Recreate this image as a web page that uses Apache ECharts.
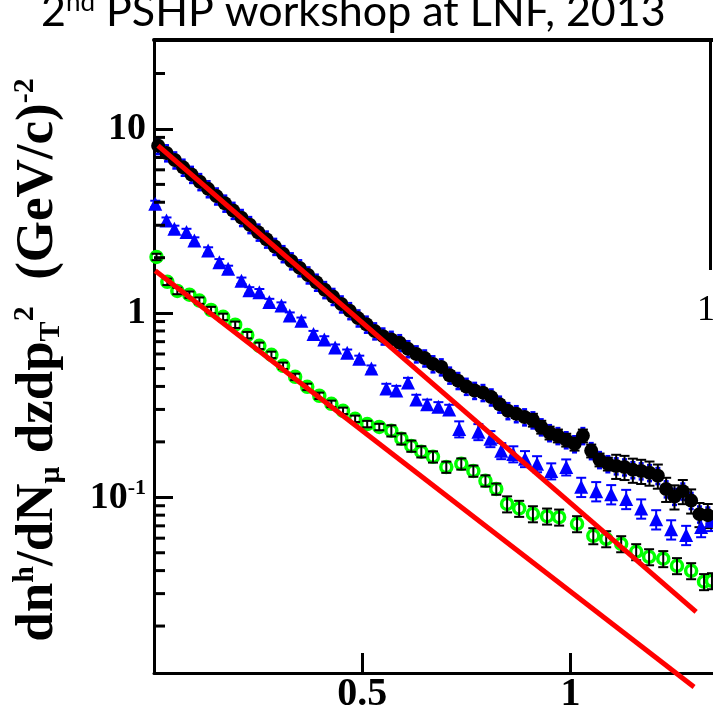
<!DOCTYPE html>
<html><head><meta charset="utf-8">
<script src="https://cdn.jsdelivr.net/npm/echarts@6/dist/echarts.min.js"></script>
<style>html,body{margin:0;padding:0;background:#fff}#c{width:713px;height:715px}</style>
</head><body><div id="c"></div>
<script>
// ---------- data ----------
const xTickValues = [0.5, 1];
const yMajorTickValues = [0.1, 1, 10];
const yMinorTickValues = [0.02,0.03,0.04,0.05,0.06,0.07,0.08,0.09,0.2,0.3,0.4,0.5,0.6,0.7,0.8,0.9,2,3,4,5,6,7,8,9,20];

const blackX = [0.01,0.03,0.05,0.07,0.09,0.11,0.13,0.15,0.17,0.19,0.21,0.23,0.25,0.27,0.29,0.31,0.33,0.35,0.37,0.39,0.41,0.43,0.45,0.47,0.49,0.51,0.53,0.55,
  0.57,0.59,0.61,0.63,0.65,0.67,0.69,0.71,0.73,0.75,0.77,0.79,0.81,0.83,0.85,0.87,0.89,0.91,0.93,0.95,0.97,0.99,1.01,1.03,1.05,1.07,1.09,1.11,1.13,1.15,1.17,1.19,1.21,1.23,1.25,1.27,1.29,1.31,1.33];
const blackY = [8.11,7.41,6.78,6.19,5.66,5.17,4.73,4.32,3.95,3.61,3.30,3.02,2.75,2.52,2.30,2.10,1.92,1.76,1.61,1.47,1.34,1.23,1.12,1.03,0.94,0.87,0.80,0.75,
  0.72,0.69,0.64,0.60,0.57,0.53,0.51,0.46,0.43,0.40,0.38,0.37,0.35,0.32,0.295,0.284,0.273,0.263,0.241,0.224,0.216,0.205,0.195,0.216,0.179,0.160,0.152,0.148,0.146,0.141,0.139,0.136,0.131,0.111,0.101,0.108,0.096,0.081,0.080];
const blackErr = [0.03,0.03,0.03,0.03,0.03,0.03,0.03,0.03,0.03,0.03,0.03,0.03,0.03,0.03,0.03,0.03,0.03,0.03,0.03,0.03,0.03,0.03,0.03,0.03,0.03,0.03,0.03,0.03,
  0.05,0.05,0.05,0.05,0.05,0.05,0.05,0.05,0.05,0.05,0.05,0.05,0.05,0.05,0.05,0.05,0.05,0.08,0.08,0.08,0.08,0.08,0.08,0.08,0.08,0.08,0.08,0.15,0.15,0.15,0.15,0.15,0.15,0.15,0.15,0.15,0.15,0.15,0.15];
// second blue set lying under the black points: only its error-bar ends peek out
const blueUnderErr = [0.10,0.10,0.10,0.10,0.10,0.10,0.10,0.10,0.10,0.10,0.10,0.10,0.10,0.10,0.10,0.10,0.10,0.10,0.10,0.10,0.10,0.10,0.10,0.10,0.10,0.10,0.10,0.10,
  0.10,0.10,0.10,0.10,0.10,0.10,0.10,0.10,0.10,0.10,0.10,0.10,0.10,0.10,0.10,0.10,0.10,0.10,0.10,0.10,0.10,0.10,0.10,0.10,0.10,0.10,0.10,0.10,0.10,0.10,0.10,0.10,0.10,0.10,0.10,0.10,0.10,0.10,0.10];

const blueX = [0.003,0.030,0.049,0.078,0.097,0.130,0.157,0.178,0.210,0.229,0.253,0.277,0.306,0.326,0.354,0.383,0.409,0.435,0.464,0.493,0.522,
  0.558,0.582,0.610,0.630,0.656,0.683,0.709,0.733,0.779,0.808,0.834,0.863,0.891,0.920,0.954,0.990,1.026,1.062,1.098,1.134,1.170,1.206,1.242,1.278,1.314,1.338];
const blueY = [3.92,3.18,2.87,2.76,2.48,2.19,1.89,1.74,1.50,1.33,1.30,1.15,1.10,0.97,0.91,0.77,0.72,0.65,0.61,0.565,0.50,
  0.39,0.38,0.42,0.34,0.32,0.31,0.30,0.235,0.227,0.208,0.179,0.172,0.162,0.152,0.139,0.146,0.114,0.108,0.104,0.098,0.087,0.076,0.067,0.0625,0.069,0.0745];
const blueErr = [0.04,0.04,0.04,0.04,0.04,0.04,0.04,0.04,0.04,0.04,0.04,0.04,0.04,0.04,0.04,0.04,0.04,0.04,0.04,0.04,0.04,
  0.06,0.06,0.06,0.06,0.06,0.06,0.06,0.10,0.10,0.10,0.10,0.10,0.10,0.10,0.10,0.10,0.12,0.12,0.12,0.12,0.12,0.12,0.12,0.12,0.12,0.12];

const greenX = [0.006,0.032,0.056,0.085,0.109,0.137,0.166,0.195,0.224,0.253,0.282,0.310,0.339,0.368,0.397,0.426,0.454,0.483,0.512,0.541,
  0.570,0.594,0.618,0.642,0.670,0.702,0.738,0.767,0.796,0.822,0.848,0.877,0.910,0.944,0.973,1.016,1.055,1.086,1.122,1.158,1.189,1.223,1.256,1.290,1.321,1.340];
const greenY = [2.02,1.48,1.32,1.26,1.17,1.04,0.955,0.865,0.76,0.665,0.594,0.518,0.451,0.398,0.356,0.322,0.295,0.267,0.25,0.241,
  0.23,0.208,0.19,0.177,0.166,0.146,0.152,0.139,0.123,0.111,0.092,0.087,0.0813,0.079,0.078,0.0718,0.0618,0.0595,0.0559,0.0506,0.0475,0.0464,0.0425,0.0399,0.0348,0.0352];
const greenErr = [0.04,0.04,0.04,0.04,0.04,0.04,0.04,0.04,0.04,0.04,0.04,0.04,0.04,0.04,0.04,0.04,0.04,0.04,0.04,0.04,
  0.07,0.07,0.07,0.07,0.07,0.07,0.07,0.07,0.07,0.07,0.10,0.10,0.10,0.10,0.10,0.10,0.10,0.10,0.10,0.10,0.10,0.10,0.10,0.10,0.10,0.10];

const redHighX = [0.0096, 1.302];
const redHighY = [8.13, 0.0239];
const redLowX = [0.003, 1.297];
const redLowY = [1.70, 0.00933];

const titleText = ['2', 'nd', ' PSHP workshop at LNF, 2013'];

// ---------- build ----------
const zip = (xs, ys, es) => xs.map((x, i) => es ? [x, ys[i], es[i]] : [x, ys[i]]);

function errRender(color, capHalf, lw) {
  return function (params, api) {
    const x = api.value(0), v = api.value(1), r = api.value(2);
    const lo = api.coord([x, v * (1 - r)]);
    const hi = api.coord([x, v * (1 + r)]);
    const st = { stroke: color, lineWidth: lw, fill: null };
    return { type: 'group', children: [
      { type: 'line', shape: { x1: lo[0], y1: lo[1], x2: hi[0], y2: hi[1] }, style: st },
      { type: 'line', shape: { x1: lo[0] - capHalf, y1: lo[1], x2: lo[0] + capHalf, y2: lo[1] }, style: st },
      { type: 'line', shape: { x1: hi[0] - capHalf, y1: hi[1], x2: hi[0] + capHalf, y2: hi[1] }, style: st }
    ]};
  };
}

function ringRender(color, r, lw) {
  return function (params, api) {
    const p = api.coord([api.value(0), api.value(1)]);
    return { type: 'circle', shape: { cx: p[0], cy: p[1], r: r }, style: { stroke: color, lineWidth: lw, fill: '#fff' } };
  };
}

const chart = echarts.init(document.getElementById('c'));
const serif = 'Liberation Serif';

chart.setOption({
  animation: false,
  backgroundColor: '#fff',
  grid: { left: 154, right: 0, top: 39.5, bottom: 42, containLabel: false },
  xAxis: [{
    type: 'value', position: 'bottom', min: 0, max: 1.3425, interval: 0.5,
    axisLine: { onZero: false, lineStyle: { color: '#000', width: 3 } },
    axisTick: { inside: true, length: 20, lineStyle: { color: '#000', width: 3 } },
    axisLabel: { showMinLabel: false, showMaxLabel: false, color: '#000', fontFamily: serif, fontWeight: 'bold', fontSize: 40, margin: 2,
      formatter: v => xTickValues.indexOf(v) >= 0 ? String(v) : '' },
    splitLine: { show: false }
  }, {
    type: 'value', position: 'top', min: 0, max: 1.3425,
    axisLine: { onZero: false, lineStyle: { color: '#000', width: 4 } },
    axisTick: { show: false }, axisLabel: { show: false }, splitLine: { show: false }
  }],
  yAxis: [{
    type: 'log', logBase: 10, min: 0.01112, max: 30.6,
    axisLine: { onZero: false, lineStyle: { color: '#000', width: 3 } },
    axisTick: { inside: true, length: 19, lineStyle: { color: '#000', width: 3 } },
    axisLabel: { showMinLabel: false, showMaxLabel: false, color: '#000', fontFamily: serif, fontWeight: 'bold', fontSize: 38, margin: 8,
      formatter: v => {
        const l = Math.round(Math.log10(v));
        if (Math.abs(Math.log10(v) - l) > 1e-6) return '';
        const t = yMajorTickValues.find(m => Math.abs(Math.log10(m) - l) < 1e-6);
        if (t === undefined) return '';
        if (l < 0) return '{b|10}{s|' + l + '}';
        return String(Math.round(Math.pow(10, l)));
      },
      rich: {
        b: { fontFamily: serif, fontWeight: 'bold', fontSize: 38, color: '#000', lineHeight: 40, verticalAlign: 'bottom' },
        s: { fontFamily: serif, fontWeight: 'bold', fontSize: 22, color: '#000', lineHeight: 22, verticalAlign: 'top' }
      }
    },
    splitLine: { show: false }
  }],
  graphic: [
    {
      type: 'text', x: 41, y: 12, silent: true,
      style: {
        text: '{a|' + titleText[0] + '}{s|' + titleText[1] + '}{a|' + titleText[2] + '}',
        textAlign: 'left', textVerticalAlign: 'middle',
        rich: {
          a: { fontFamily: 'Lato', fontSize: 43, lineHeight: 44, fill: '#000', color: '#000' },
          s: { fontFamily: 'Lato', fontSize: 26, lineHeight: 26, verticalAlign: 'top', fill: '#000', color: '#000' }
        }
      }
    },
    {
      type: 'text', x: 38, y: 360, rotation: Math.PI / 2, silent: true,
      style: {
        text: '{m|dn}{sp|h}{m|/dN}{sb|μ}{m| dzdp}{sb|T}{sp|2}{m|  (GeV/c)}{sp|-2}',
        textAlign: 'center', textVerticalAlign: 'middle',
        rich: {
          m: { fontFamily: serif, fontWeight: 'bold', fontSize: 53, lineHeight: 56, color: '#000' },
          sp: { fontFamily: serif, fontWeight: 'bold', fontSize: 30, lineHeight: 30, verticalAlign: 'top', color: '#000' },
          sb: { fontFamily: serif, fontWeight: 'bold', fontSize: 30, lineHeight: 30, verticalAlign: 'bottom', color: '#000' }
        }
      }
    },
    { type: 'line', silent: true, shape: { x1: 710.5, y1: 40, x2: 710.5, y2: 270 }, style: { stroke: '#000', lineWidth: 3 } },
    { type: 'text', silent: true, x: 697, y: 311, style: { text: '1', fontFamily: serif, fontSize: 36, fill: '#000', textAlign: 'left', textVerticalAlign: 'middle' } }
  ],
  series: [
    { type: 'custom', name: 'minorTicks', silent: true, z: 5,
      data: yMinorTickValues.map(v => [0, v]),
      renderItem: (params, api) => {
        const p = api.coord([0, api.value(1)]);
        return { type: 'line', shape: { x1: p[0], y1: p[1], x2: p[0] + 11, y2: p[1] }, style: { stroke: '#000', lineWidth: 3 } };
      }
    },
    { type: 'custom', name: 'blueUnder', silent: true, data: zip(blackX, blackY, blueUnderErr), renderItem: errRender('#0000ff', 2.5, 2.5) },
    { type: 'custom', name: 'blueErr', silent: true, data: zip(blueX, blueY, blueErr), renderItem: errRender('#0000ff', 5, 2) },
    { type: 'scatter', name: 'blue', silent: true, data: zip(blueX, blueY), symbol: 'triangle', symbolSize: 14, itemStyle: { color: '#0000ff', opacity: 1 } },
    { type: 'custom', name: 'blackErr', silent: true, data: zip(blackX, blackY, blackErr), renderItem: errRender('#000', 5, 2) },
    { type: 'scatter', name: 'black', silent: true, data: zip(blackX, blackY), symbol: 'circle', symbolSize: 14, itemStyle: { color: '#000', opacity: 1 } },
    { type: 'custom', name: 'green', silent: true, data: zip(greenX, greenY), renderItem: ringRender('#00ff00', 5.5, 3.5) },
    { type: 'custom', name: 'greenErr', silent: true, data: zip(greenX, greenY, greenErr), renderItem: errRender('#000', 5, 2) },
    { type: 'line', name: 'fitHigh', silent: true, clip: false, symbol: 'none', data: zip(redHighX, redHighY), lineStyle: { color: '#ff0000', width: 5 }, z: 10 },
    { type: 'line', name: 'fitLow', silent: true, clip: false, symbol: 'none', data: zip(redLowX, redLowY), lineStyle: { color: '#ff0000', width: 5 }, z: 10 }
  ]
});
</script>
</body></html>
